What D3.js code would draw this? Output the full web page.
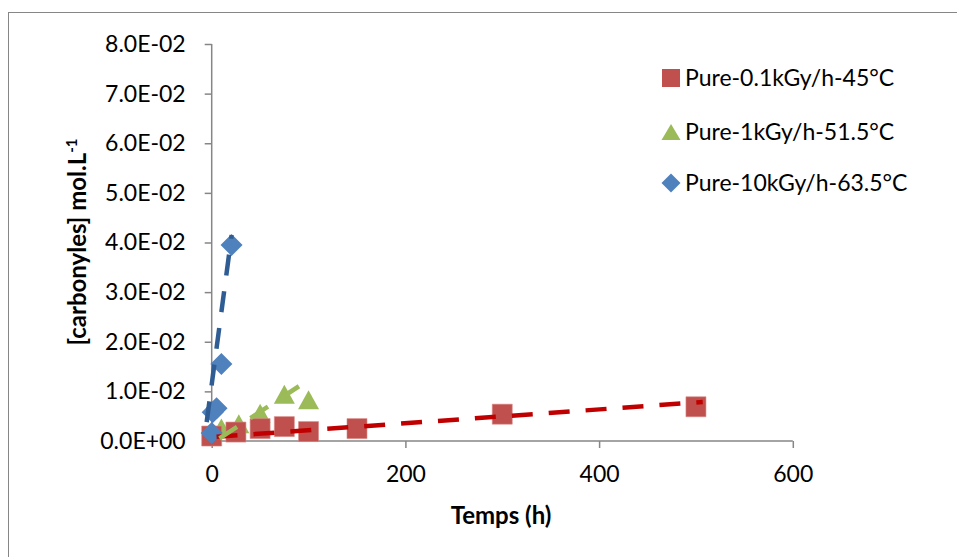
<!DOCTYPE html>
<html><head><meta charset="utf-8">
<script src="https://cdn.jsdelivr.net/npm/d3@7"></script>
<style>body{margin:0;background:#fff}svg{display:block}text{font-family:Lato,"Open Sans",sans-serif;fill:#000}</style>
</head><body><svg id="c" width="957" height="557"></svg>
<script>
// ---- data ----
const seriesNames = ["Pure-0.1kGy/h-45°C", "Pure-1kGy/h-51.5°C", "Pure-10kGy/h-63.5°C"];
const redT = [0, 25, 50, 75, 100, 150, 300, 500];
const redV = [0.0010, 0.0018, 0.0025, 0.0029, 0.0019, 0.0025, 0.0054, 0.0069];
const greenT = [10, 28, 50, 75, 100];
const greenV = [0.0026, 0.0035, 0.0056, 0.0094, 0.0083];
const blueT = [0, 1, 5, 10, 20.5];
const blueV = [0.0016, 0.0058, 0.0066, 0.0155, 0.0395];
// trend lines (end points)
const redTrendT = [5, 507];
const redTrendV = [0.00085, 0.00786];
const greenTrendT = [8, 100];
const greenTrendV = [0.00055, 0.0123];
const blueTrendT = [-5.2, 20.6];
const blueTrendV = [0.0038, 0.0415];
// axes
const xTicks = [0, 200, 400, 600];
const xTickLabels = ["0", "200", "400", "600"];
const yTicks = [0, 0.01, 0.02, 0.03, 0.04, 0.05, 0.06, 0.07, 0.08];
const yTickLabels = ["0.0E+00","1.0E-02","2.0E-02","3.0E-02","4.0E-02","5.0E-02","6.0E-02","7.0E-02","8.0E-02"];

const svg = d3.select("#c");
const x = d3.scaleLinear().domain([0, 600]).range([211.7, 792.8]);
const y = d3.scaleLinear().domain([0, 0.08]).range([441, 44]);
const axisColor = "#868686";
const FS = 23;   // tick & legend text
const FT = 24;   // bold axis titles

// frame
svg.append("rect").attr("x", 8.5).attr("y", 12.5).attr("width", 960).attr("height", 560)
  .attr("fill", "none").attr("stroke", axisColor).attr("stroke-width", 1);

// y axis
const ya = svg.append("g").attr("transform", `translate(${x(0)},0)`)
  .call(d3.axisLeft(y).tickValues(yTicks).tickFormat((d, i) => yTickLabels[i]).tickSize(7).tickPadding(19));
ya.selectAll("path,line").attr("stroke", axisColor).attr("stroke-width", 1.5);
ya.selectAll("text").attr("font-size", FS).attr("font-family", "Lato").attr("fill", "#000");
ya.select(".domain").attr("d", `M-0,${y(0)}V${y(0.08)}`);

// x axis
const xa = svg.append("g").attr("transform", `translate(0,${y(0)})`)
  .call(d3.axisBottom(x).tickValues(xTicks).tickFormat((d, i) => xTickLabels[i]).tickSize(7).tickPadding(18));
xa.selectAll("path,line").attr("stroke", axisColor).attr("stroke-width", 1.5);
xa.selectAll("text").attr("font-size", FS).attr("font-family", "Lato").attr("fill", "#000");
xa.select(".domain").attr("d", `M${x(0)},0H${x(600)}`);

// axis titles
svg.append("text").attr("x", 501).attr("y", 524).attr("text-anchor", "middle")
  .attr("font-size", FT).attr("font-weight", "bold").text("Temps (h)");
const yt = svg.append("text").attr("transform", "translate(86,242) rotate(-90)")
  .attr("text-anchor", "middle").attr("font-size", FT).attr("font-weight", "bold");
yt.append("tspan").text("[carbonyles] mol.L");
yt.append("tspan").attr("font-size", 15).attr("dy", -9).text("-1");

// marker shapes (bbox-centered)
const sq = s => `M${-s/2},${-s/2}h${s}v${s}h${-s}Z`;
const tri = (w, h) => `M0,${-h/2}L${w/2},${h/2}L${-w/2},${h/2}Z`;
const dia = s => `M0,${-s/2}L${s/2},0L0,${s/2}L${-s/2},0Z`;

const cRed = "#C0504D", cGreen = "#9BBB59", cBlue = "#4F81BD";
const plot = svg.append("g");
// green markers
plot.selectAll(".g").data(greenT.map((t, i) => [t, greenV[i]])).join("path")
  .attr("d", tri(21, 19)).attr("fill", cGreen)
  .attr("transform", d => `translate(${x(d[0])},${y(d[1])})`);
// red markers
plot.selectAll(".r").data(redT.map((t, i) => [t, redV[i]])).join("path")
  .attr("d", sq(20)).attr("fill", cRed).attr("stroke", "#D88986").attr("stroke-width", 0.6)
  .attr("transform", d => `translate(${x(d[0])},${y(d[1])})`);
// blue markers
plot.selectAll(".b").data(blueT.map((t, i) => [t, blueV[i]])).join("path")
  .attr("d", dia(22)).attr("fill", cBlue)
  .attr("transform", d => `translate(${x(d[0])},${y(d[1])})`);

// trend lines
const line = d3.line().x(d => x(d[0])).y(d => y(d[1]));
function trend(ts, vs, col) {
  plot.append("path").datum(ts.map((t, i) => [t, vs[i]])).attr("d", line)
    .attr("fill", "none").attr("stroke", col).attr("stroke-width", 4.5)
    .attr("stroke-dasharray", "21,16").attr("stroke-linecap", "butt");
}
trend(redTrendT, redTrendV, "#C00000");
trend(greenTrendT, greenTrendV, cGreen);
trend(blueTrendT, blueTrendV, "#2F5D93");

// legend
const legY = [78, 132, 183];
const leg = svg.append("g");
const shapes = [sq(18), tri(19, 16), dia(19)];
const cols = [cRed, cGreen, cBlue];
seriesNames.forEach((n, i) => {
  leg.append("path").attr("d", shapes[i]).attr("fill", cols[i])
    .attr("transform", `translate(671,${legY[i]})`);
  leg.append("text").attr("x", 685).attr("y", legY[i]).attr("dy", "0.35em")
    .attr("font-size", FS).text(n);
});
</script></body></html>
